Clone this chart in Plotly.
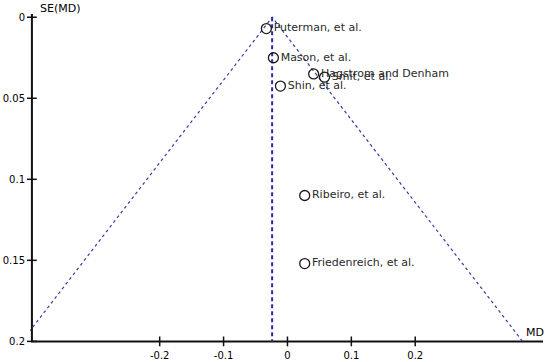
import plotly.graph_objects as go

# study estimates
studies = [
    "Puterman, et al.", "Mason, et al.", "Hagstrom and Denham", "Smit, et al.",
    "Shin, et al.", "Ribeiro, et al.", "Friedenreich, et al.",
]
md = [-0.033, -0.022, 0.041, 0.058, -0.011, 0.027, 0.027]
se_md = [0.007, 0.025, 0.035, 0.037, 0.0425, 0.110, 0.152]

pooled_md = -0.024
se_max = 0.2
x_min, x_max = -0.4, 0.4
x_ticks = [-0.2, -0.1, 0, 0.1, 0.2]
y_ticks = [0, 0.05, 0.1, 0.15, 0.2]

LINE = "#3a3aa8"
AXIS = "#111111"

fig = go.Figure()

# axis frame (left and bottom) with cross ticks
fig.add_trace(go.Scatter(
    x=[x_min, x_min, x_max],
    y=[-0.002, se_max, se_max],
    mode="lines",
    line=dict(color=AXIS, width=2),
    hoverinfo="skip",
))
fig.add_trace(go.Scatter(
    x=x_ticks,
    y=[se_max] * len(x_ticks),
    mode="markers",
    marker=dict(symbol="line-ns", size=7, line=dict(color=AXIS, width=1.5)),
    cliponaxis=False,
    hoverinfo="skip",
))
fig.add_trace(go.Scatter(
    x=[x_min] * len(y_ticks),
    y=y_ticks,
    mode="markers",
    marker=dict(symbol="line-ew", size=7, line=dict(color=AXIS, width=1.5)),
    cliponaxis=False,
    hoverinfo="skip",
))

# pseudo 95% confidence limits
fig.add_trace(go.Scatter(
    x=[pooled_md - 1.96 * se_max, pooled_md, pooled_md + 1.96 * se_max],
    y=[se_max, 0, se_max],
    mode="lines",
    line=dict(color=LINE, width=1.2, dash="3px,3px"),
    hoverinfo="skip",
))
# pooled estimate
fig.add_trace(go.Scatter(
    x=[pooled_md, pooled_md],
    y=[0, se_max],
    mode="lines",
    line=dict(color="#2a2ab0", width=2, dash="4px,3px"),
    hoverinfo="skip",
))
fig.add_trace(go.Scatter(
    x=md,
    y=se_md,
    mode="markers+text",
    text=studies,
    textposition="middle right",
    textfont=dict(size=11, color="#2a2a2a"),
    marker=dict(symbol="circle-open", size=10, color="#1a1a1a", line=dict(width=1.3)),
))

axis_style = dict(
    showgrid=False,
    zeroline=False,
    showline=False,
    ticks="outside",
    tickcolor="rgba(0,0,0,0)",
    tickfont=dict(size=10),
    automargin=False,
)

fig.update_layout(
    width=550,
    height=362,
    showlegend=False,
    paper_bgcolor="white",
    plot_bgcolor="white",
    font=dict(family="DejaVu Sans, sans-serif", size=11, color="black"),
    margin=dict(l=30, r=7, t=14, b=19),
    xaxis=dict(
        range=[x_min - 0.003, x_max],
        tickvals=x_ticks,
        ticktext=["-0.2", "-0.1", "0", "0.1", "0.2"],
        ticklen=3,
        **axis_style,
    ),
    yaxis=dict(
        range=[se_max + 0.001, -0.002],
        tickvals=y_ticks,
        ticktext=["0", "0.05", "0.1", "0.15", "0.2"],
        ticklen=2,
        **axis_style,
    ),
    annotations=[
        dict(text="SE(MD)", xref="paper", yref="paper", x=0.016, y=1.0,
             xanchor="left", yanchor="bottom", showarrow=False,
             font=dict(size=11), yshift=-3),
        dict(text="MD", xref="paper", yref="paper", x=1.006, y=0.0,
             xanchor="right", yanchor="bottom", showarrow=False,
             font=dict(size=11), yshift=2),
    ],
)

fig.write_html("out.html", config={"displayModeBar": False},
               post_script="document.body.style.margin='0';")
